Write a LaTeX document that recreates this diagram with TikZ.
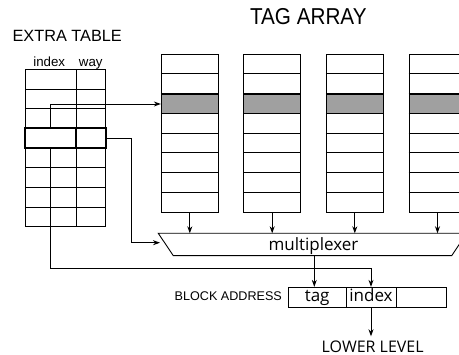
\documentclass[tikz,border=0pt]{standalone}
\usepackage{fontspec}
\setmainfont{Liberation Sans}
\newfontfamily\osans{Open Sans}
\usetikzlibrary{arrows.meta,calc}
\definecolor{shade}{HTML}{A0A0A0}
\begin{document}
\begin{tikzpicture}[x=1pt,y=-1pt,
  ln/.style={line width=0.9pt},
  arr/.style={line width=0.9pt,-{Stealth[length=7pt,width=5pt]}},
  cell/.style={draw,line width=0.9pt,inner sep=0pt,minimum height=20pt},
  hcell/.style={draw,line width=1.8pt,inner sep=0pt,minimum height=20pt},
  tcol/.style={draw,line width=0.9pt,inner sep=0pt,minimum width=57pt,minimum height=158.4pt},
  tsh/.style={draw,line width=0.9pt,fill=shade,inner sep=0pt,minimum width=57pt,minimum height=19.7pt},
  lbl/.style={inner sep=0pt,anchor=base},
  hum/.style={font=\osans\fontsize{17}{20}\selectfont,text height=9.1pt,text depth=0pt}
]
\clip (0,0) rectangle (459,355);
\fill[white] (0,0) rectangle (459,355);

% titles
\node[lbl,font=\fontsize{16.3}{18}\selectfont] (xt) at (67.2,41.7) {EXTRA TABLE};
\node[lbl,font=\fontsize{23}{26}\selectfont] (ta) at (308.3,25) {\scalebox{0.9}[1]{TAG ARRAY}};
\node[lbl,font=\fontsize{13.3}{15}\selectfont] (hi) at (49.2,66.7) {index};
\node[lbl,font=\fontsize{13.3}{15}\selectfont] (hw) at (90.8,66.7) {way};

% extra table grid
\foreach \i in {0,...,8}
  \draw[ln] (25.3,{69.3+19.7*\i}) -- (105.7,{69.3+19.7*\i});
\foreach \xx in {25.3,76.3,105.7}
  \draw[ln] (\xx,69.3) -- (\xx,226.9);
\node[hcell,minimum width=51pt] (hidx) at (50.8,138.3) {};
\node[hcell,minimum width=29.4pt] (hway) at (91,138.3) {};

% multiplexer
\coordinate (mTL) at (158.3,233.3);
\coordinate (mTR) at (466.7,233.3);
\coordinate (mBR) at (451.7,255.7);
\coordinate (mBL) at (173.3,255.7);
\draw[ln] (mTL) -- (mTR) -- (mBR) -- (mBL) -- cycle;
\node[hum,inner sep=0pt] (mux) at (313.5,245.5) {multiplexer};

% tag array columns
\foreach \k/\cx in {1/189.8,2/272.2,3/354.8,4/437.5}{
  \node[tcol] (tc\k) at (\cx,133.5) {};
  \node[tsh] (ts\k) at (\cx,104) {};
  \foreach \r in {1,...,7}
    \draw[ln] ($(tc\k.north west)+(0,19.8*\r)$) -- ++(57,0);
  \draw[arr] (tc\k.south) -- (tc\k.south |- mTL);
}

% block address
\node[cell,hum,minimum width=57.7pt] (btag) at (317.15,297.3) {tag};
\node[cell,hum,minimum width=50pt] (bidx) at (371,297.3) {index};
\node[cell,minimum width=50.7pt] (bext) at (421.35,297.3) {};
\node[lbl,font=\fontsize{12.6}{14}\selectfont] (bal) at (228.3,301) {BLOCK ADDRESS};
\node[lbl,font=\osans\fontsize{16}{18}\selectfont] (lower) at (372.7,352.6) {LOWER LEVEL};

% connectors
\coordinate (mout) at (314.3,255.7);
\draw[arr] (mout) -- (mout |- btag.north);
\draw[arr] (hidx.north) |- (ts1.west);
\coordinate (jn) at (bidx.north |- 0,268.3);
\draw[arr] (hidx.south) |- (jn) -- (bidx.north);
\coordinate (muxin) at (160,242.7);
\coordinate (bend) at (131.7,242.7);
\draw[arr] (hway.east) -| (bend) -- (muxin);
\draw[arr,shorten >=4.5pt] (bidx.south) -- (bidx.south |- lower.north);
\end{tikzpicture}
\end{document}
